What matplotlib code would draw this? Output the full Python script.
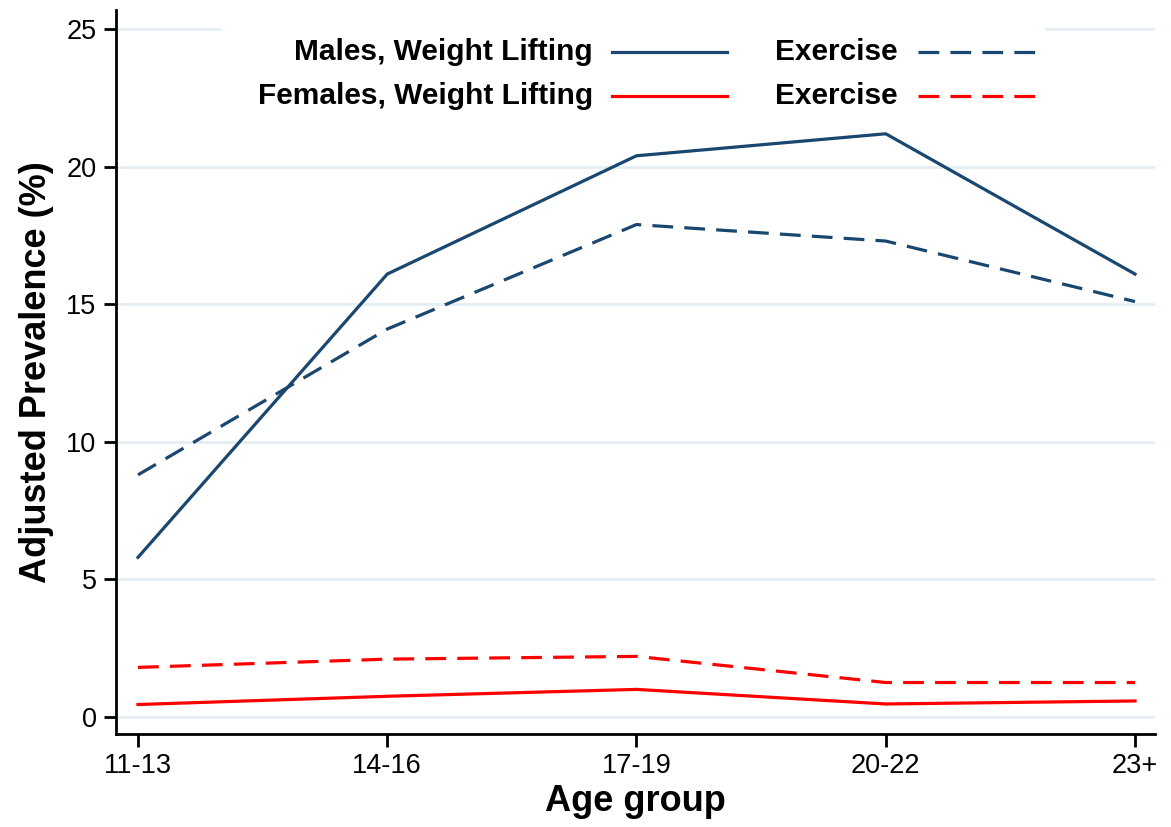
import numpy as np
import matplotlib
matplotlib.use("Agg")
import matplotlib.pyplot as plt

# adjusted prevalence (%) by age group
age_groups = ["11-13", "14-16", "17-19", "20-22", "23+"]
male_lifting = [5.8, 16.1, 20.4, 21.2, 16.1]
male_exercise = [8.8, 14.1, 17.9, 17.3, 15.1]
female_lifting = [0.45, 0.75, 1.0, 0.47, 0.58]
female_exercise = [1.8, 2.1, 2.2, 1.25, 1.25]

navy = "#1a476f"
red = "#ff0000"
dash = (6.5, 3.5)

plt.rcParams['font.family'] = ['Liberation Sans', 'DejaVu Sans']

fig = plt.figure(figsize=(11.71, 8.27), dpi=100)
ax = fig.add_axes([0.0991, 0.1125, 0.8872, 0.8754])

x = np.arange(len(age_groups))
ax.plot(x, male_lifting, color=navy, lw=2.3, zorder=3)
ax.plot(x, male_exercise, color=navy, lw=2.3, dashes=dash, zorder=3)
ax.plot(x, female_lifting, color=red, lw=2.3, zorder=3)
ax.plot(x, female_exercise, color=red, lw=2.3, dashes=dash, zorder=3)

ax.set_xlim(-0.088, 4.08)
ax.set_ylim(-0.62, 25.7)
ax.set_xticks(x)
ax.set_xticklabels(age_groups)
ax.set_yticks([0, 5, 10, 15, 20, 25])
ax.yaxis.grid(True, color="#e3ecf0", lw=1.8, zorder=0)
ax.set_axisbelow(True)

for s in ["top", "right"]:
    ax.spines[s].set_visible(False)
for s in ["left", "bottom"]:
    ax.spines[s].set_linewidth(2)
ax.tick_params(axis="both", direction="out", length=9, width=2, labelsize=19.5, pad=5)

ax.set_xlabel("Age group", fontsize=26, fontweight="bold", labelpad=3)
ax.set_ylabel("Adjusted Prevalence (%)", fontsize=26, fontweight="bold", labelpad=9)

# key, drawn by hand so the first column of text is right aligned
ax.add_patch(plt.Rectangle((0.102, 0.848), 0.792, 0.145, transform=ax.transAxes,
                           facecolor="white", edgecolor="none", zorder=4))
rows = [0.942, 0.881]
keys = [("Males, Weight Lifting", navy), ("Females, Weight Lifting", red)]
for yy, (lab, col) in zip(rows, keys):
    ax.text(0.459, yy, lab, transform=ax.transAxes, ha="right", va="center",
            fontsize=21.5, fontweight="bold", zorder=5)
    ax.plot([0.477, 0.588], [yy, yy], transform=ax.transAxes, color=col, lw=2.3, zorder=5)
    ax.text(0.634, yy, "Exercise", transform=ax.transAxes, ha="left", va="center",
            fontsize=21.5, fontweight="bold", zorder=5)
    ax.plot([0.772, 0.885], [yy, yy], transform=ax.transAxes, color=col, lw=2.3,
            dashes=dash, zorder=5)

fig.savefig("out.png", dpi=100)
